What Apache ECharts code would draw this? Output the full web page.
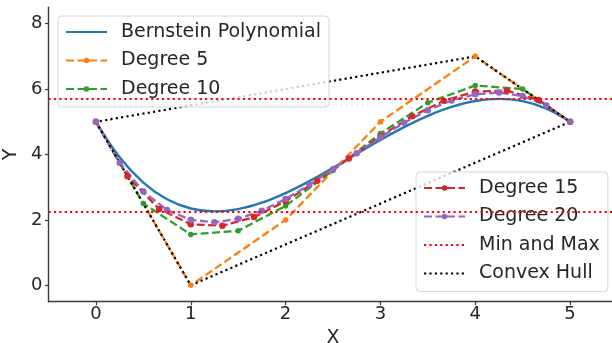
<!DOCTYPE html>
<html>
<head>
<meta charset="utf-8">
<script src="https://cdn.jsdelivr.net/npm/echarts@6/dist/echarts.min.js"></script>
<style>
  html, body { margin: 0; padding: 0; background: #ffffff; }
  #chart { width: 612px; height: 343px; }
</style>
</head>
<body>
<div id="chart"></div>
<script>
// Bernstein polynomial of degree 5 sampled along x
const curveX = [0, 0.25, 0.5, 0.75, 1, 1.25, 1.5, 1.75, 2, 2.25, 2.5, 2.75, 3, 3.25, 3.5, 3.75, 4, 4.25, 4.5, 4.75, 5];
const curveY = [5, 3.918, 3.142, 2.632, 2.350, 2.261, 2.330, 2.526, 2.821, 3.185, 3.594, 4.021, 4.443, 4.837, 5.182, 5.454, 5.634, 5.699, 5.630, 5.404, 5];

// Control points for each degree
const deg5X = [0, 1, 2, 3, 4, 5];
const deg5Y = [5, 0, 2, 5, 7, 5];

const deg10X = [0, 0.5, 1, 1.5, 2, 2.5, 3, 3.5, 4, 4.5, 5];
const deg10Y = [5, 2.5, 1.556, 1.667, 2.429, 3.512, 4.643, 5.583, 6.111, 6.0, 5];

const deg15X = [0, 0.333, 0.667, 1, 1.333, 1.667, 2, 2.333, 2.667, 3, 3.333, 3.667, 4, 4.333, 4.667, 5];
const deg15Y = [5, 3.333, 2.333, 1.868, 1.821, 2.086, 2.572, 3.196, 3.881, 4.559, 5.167, 5.641, 5.923, 5.952, 5.667, 5];

const deg20X = [0, 0.25, 0.5, 0.75, 1, 1.25, 1.5, 1.75, 2, 2.25, 2.5, 2.75, 3, 3.25, 3.5, 3.75, 4, 4.25, 4.5, 4.75, 5];
const deg20Y = [5, 3.75, 2.868, 2.303, 2.004, 1.928, 2.034, 2.282, 2.639, 3.072, 3.549, 4.042, 4.525, 4.971, 5.355, 5.653, 5.841, 5.895, 5.789, 5.5, 5];

// Convex hull of the degree-5 control polygon (closed)
const hullX = [0, 1, 5, 4, 0];
const hullY = [5, 0, 5, 7, 5];

// Minimum and maximum of the polynomial
const extremes = [2.26, 5.70];

// Axis ticks
const xTicks = [0, 1, 2, 3, 4, 5];
const yTicks = [0, 2, 4, 6, 8];

const zip = (xs, ys) => xs.map((x, i) => [x, ys[i]]);

const FONT = 'DejaVu Sans';
const TEXT = '#262626';
const AXIS = '#3a3a3a';
const dashed = [8, 3.5];
const dotted = [2.2, 3.2];

function degreeSeries(name, xs, ys, color, size) {
  return {
    name: name,
    type: 'line',
    data: zip(xs, ys),
    symbol: 'circle',
    symbolSize: size,
    itemStyle: { color: color, borderWidth: 0 },
    lineStyle: { color: color, width: 2.3, type: dashed },
    emphasis: { disabled: true }
  };
}

// legend entries for plain lines carry no marker
const plain = name => ({ name: name, itemStyle: { opacity: 0 } });

const legendCommon = {
  orient: 'vertical',
  itemWidth: 41,
  itemHeight: 7,
  itemGap: 8.5,
  padding: [6, 8, 8, 7],
  backgroundColor: 'rgba(255,255,255,0.8)',
  borderColor: '#d6d6d6',
  borderWidth: 1,
  borderRadius: 4,
  selectedMode: false,
  textStyle: { fontFamily: FONT, fontSize: 19, lineHeight: 20, color: TEXT, padding: [0, 0, 0, 9] }
};

const chart = echarts.init(document.getElementById('chart'), null, { renderer: 'canvas' });

chart.setOption({
  animation: false,
  backgroundColor: '#ffffff',
  grid: { left: 48.5, top: 7.3, bottom: 41.3, right: -5.5, containLabel: false, outerBoundsMode: 'none' },
  legend: [
    Object.assign({}, legendCommon, {
      left: 58, top: 16,
      data: [plain('Bernstein Polynomial'), 'Degree 5', 'Degree 10']
    }),
    Object.assign({}, legendCommon, {
      left: 416, top: 172,
      data: ['Degree 15', 'Degree 20', plain('Min and Max'), plain('Convex Hull')]
    })
  ],
  xAxis: {
    type: 'value',
    min: -0.5, max: 5.5,
    name: 'X',
    nameLocation: 'middle',
    nameGap: 21,
    nameTextStyle: { fontFamily: FONT, fontSize: 19, color: TEXT },
    axisLine: { onZero: false, lineStyle: { color: AXIS, width: 1.4 } },
    axisTick: { show: true, length: 3.5, lineStyle: { color: AXIS, width: 1.2 }, customValues: xTicks },
    axisLabel: { fontFamily: FONT, fontSize: 18, color: TEXT, margin: 4, customValues: xTicks },
    splitLine: { show: false }
  },
  yAxis: {
    type: 'value',
    min: -0.5, max: 8.5,
    name: 'Y',
    nameLocation: 'middle',
    nameGap: 21,
    nameTextStyle: { fontFamily: FONT, fontSize: 19, color: TEXT },
    axisLine: { show: true, onZero: false, lineStyle: { color: AXIS, width: 1.4 } },
    axisTick: { show: true, length: 3.5, lineStyle: { color: AXIS, width: 1.2 }, customValues: yTicks },
    axisLabel: { fontFamily: FONT, fontSize: 18, color: TEXT, margin: 6, customValues: yTicks },
    splitLine: { show: false }
  },
  series: [
    {
      name: 'Bernstein Polynomial',
      type: 'line',
      data: zip(curveX, curveY),
      smooth: 0.4,
      symbol: 'none',
      itemStyle: { color: '#1f77b4' },
      lineStyle: { color: '#1f77b4', width: 2.4, type: 'solid' },
      emphasis: { disabled: true }
    },
    degreeSeries('Degree 5', deg5X, deg5Y, '#ff7f0e', 5.5),
    degreeSeries('Degree 10', deg10X, deg10Y, '#2ca02c', 5.5),
    degreeSeries('Degree 15', deg15X, deg15Y, '#d62728', 6.5),
    degreeSeries('Degree 20', deg20X, deg20Y, '#9467bd', 6.5),
    {
      name: 'Min and Max',
      type: 'line',
      data: [],
      symbol: 'none',
      itemStyle: { color: '#ff0000' },
      lineStyle: { color: '#ff0000', width: 2.2, type: dotted },
      markLine: {
        silent: true,
        symbol: 'none',
        label: { show: false },
        lineStyle: { color: '#ff0000', width: 2.2, type: dotted },
        data: extremes.map(v => ({ yAxis: v }))
      }
    },
    {
      name: 'Convex Hull',
      type: 'line',
      data: zip(hullX, hullY),
      symbol: 'none',
      itemStyle: { color: '#000000' },
      lineStyle: { color: '#000000', width: 2.2, type: dotted },
      emphasis: { disabled: true }
    }
  ]
});
</script>
</body>
</html>
